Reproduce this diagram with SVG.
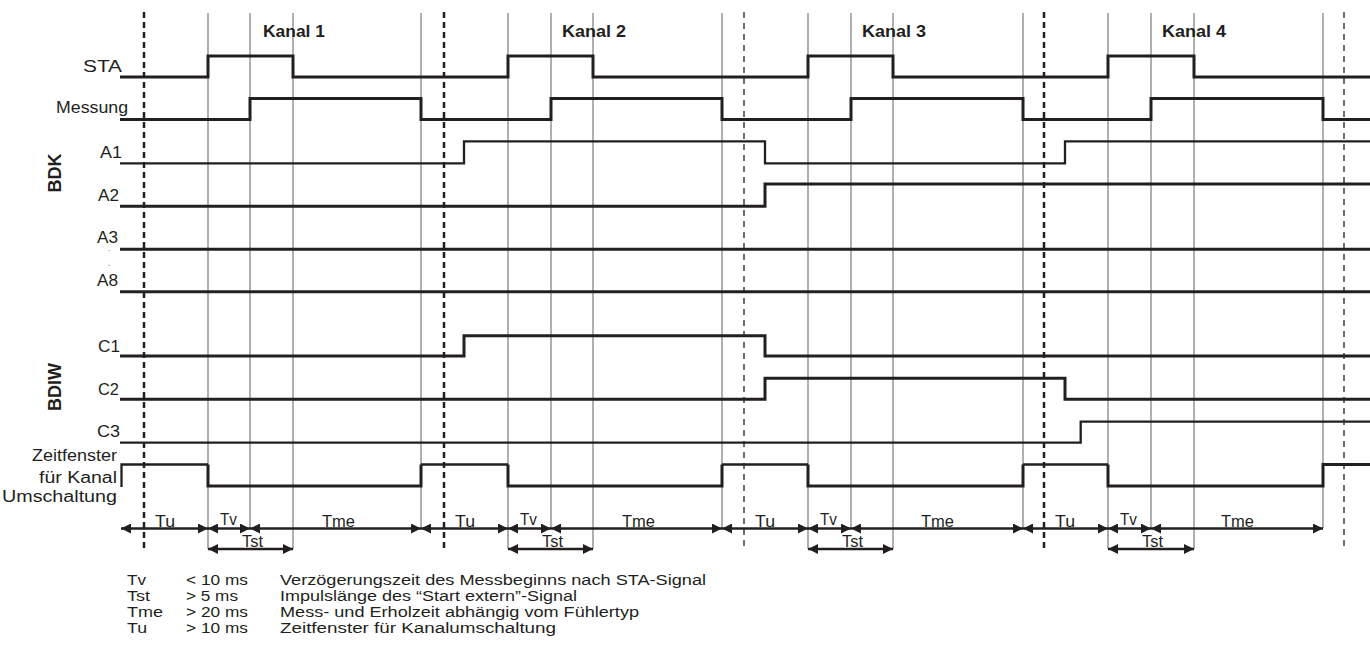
<svg xmlns="http://www.w3.org/2000/svg" width="1370" height="649" viewBox="0 0 1370 649">
<style>
.grid{stroke:#6e6e6e;stroke-width:1.1;fill:none}
.dk{stroke:#231f20;stroke-width:2.5;stroke-dasharray:6 4;fill:none}
.dt{stroke:#231f20;stroke-width:1.3;stroke-dasharray:6 5;fill:none}
.w3{stroke:#231f20;stroke-width:3;fill:none;stroke-linejoin:miter}
.w2{stroke:#231f20;stroke-width:2.3;fill:none;stroke-linejoin:miter}
.arr{stroke:#231f20;stroke-width:2.6;fill:none;marker-start:url(#ah);marker-end:url(#ah)}
text{font-family:"Liberation Sans",Arial,sans-serif;fill:#231f20}
.lbl{font-size:16px}
.leg{font-size:13.8px}
.tm{font-size:16px}
.kan{font-size:17px;font-weight:bold}
.grp{font-size:18px;font-weight:bold}
</style>
<defs>
<marker id="ah" viewBox="0 0 10 10" refX="10" refY="5" markerWidth="11" markerHeight="10" markerUnits="userSpaceOnUse" orient="auto-start-reverse">
<path d="M0,0 L10,5 L0,10 z" fill="#231f20"/>
</marker>
</defs>
<rect x="0" y="0" width="1370" height="649" fill="#ffffff"/>

<g id="gridlines">
<line class="grid" x1="208" y1="13" x2="208" y2="549"/>
<line class="grid" x1="250" y1="13" x2="250" y2="528"/>
<line class="grid" x1="293" y1="13" x2="293" y2="549"/>
<line class="grid" x1="421" y1="13" x2="421" y2="528"/>
<line class="grid" x1="508" y1="13" x2="508" y2="549"/>
<line class="grid" x1="551" y1="13" x2="551" y2="528"/>
<line class="grid" x1="593" y1="13" x2="593" y2="549"/>
<line class="grid" x1="722" y1="13" x2="722" y2="528"/>
<line class="grid" x1="808" y1="13" x2="808" y2="549"/>
<line class="grid" x1="851" y1="13" x2="851" y2="528"/>
<line class="grid" x1="893" y1="13" x2="893" y2="549"/>
<line class="grid" x1="1023" y1="13" x2="1023" y2="528"/>
<line class="grid" x1="1108" y1="13" x2="1108" y2="549"/>
<line class="grid" x1="1151" y1="13" x2="1151" y2="528"/>
<line class="grid" x1="1194" y1="13" x2="1194" y2="549"/>
<line class="grid" x1="1323" y1="13" x2="1323" y2="528"/>
<line class="dk" x1="144" y1="12" x2="144" y2="548"/>
<line class="dk" x1="444" y1="12" x2="444" y2="548"/>
<line class="dt" x1="744" y1="12" x2="744" y2="548"/>
<line class="dk" x1="1044" y1="12" x2="1044" y2="548"/>
<line class="dt" x1="1344" y1="12" x2="1344" y2="548"/>
</g>

<g id="channel-labels">
<text class="kan" x="263" y="37" textLength="62" lengthAdjust="spacingAndGlyphs">Kanal 1</text>
<text class="kan" x="562" y="37" textLength="64" lengthAdjust="spacingAndGlyphs">Kanal 2</text>
<text class="kan" x="862" y="37" textLength="64" lengthAdjust="spacingAndGlyphs">Kanal 3</text>
<text class="kan" x="1162" y="37" textLength="64" lengthAdjust="spacingAndGlyphs">Kanal 4</text>
</g>

<g id="group-labels">
<text class="grp" transform="translate(61,173) rotate(-90)" text-anchor="middle">BDK</text>
<text class="grp" transform="translate(61,387) rotate(-90)" text-anchor="middle">BDIW</text>
</g>

<g id="sig-STA">
<text class="lbl" x="83" y="72" textLength="39" lengthAdjust="spacingAndGlyphs">STA</text>
<polyline class="w3" points="120,77 208,77 208,56 293,56 293,77 508,77 508,56 593,56 593,77 808,77 808,56 893,56 893,77 1108,77 1108,56 1194,56 1194,77 1370,77"/>
</g>
<g id="sig-Messung">
<text class="lbl" x="56" y="113" textLength="72" lengthAdjust="spacingAndGlyphs">Messung</text>
<polyline class="w3" points="120,119.5 250,119.5 250,98.5 421,98.5 421,119.5 551,119.5 551,98.5 722,98.5 722,119.5 851,119.5 851,98.5 1023,98.5 1023,119.5 1151,119.5 1151,98.5 1323,98.5 1323,119.5 1370,119.5"/>
</g>
<g id="sig-A1">
<text class="lbl" x="100" y="158" textLength="22" lengthAdjust="spacingAndGlyphs">A1</text>
<polyline class="w2" points="120,163.3 464,163.3 464,141.3 765,141.3 765,163.3 1065,163.3 1065,141.3 1370,141.3"/>
</g>
<g id="sig-A2">
<text class="lbl" x="98" y="201" textLength="21" lengthAdjust="spacingAndGlyphs">A2</text>
<polyline class="w3" points="120,206.3 765,206.3 765,184 1370,184"/>
</g>
<g id="sig-A3">
<text class="lbl" x="97" y="243" textLength="21" lengthAdjust="spacingAndGlyphs">A3</text>
<text x="108" y="251" font-size="8">.</text>
<text x="108" y="266" font-size="8">.</text>
<line class="w3" x1="120" y1="249.3" x2="1370" y2="249.3"/>
</g>
<g id="sig-A8">
<text class="lbl" x="97" y="286" textLength="21" lengthAdjust="spacingAndGlyphs">A8</text>
<line class="w3" x1="120" y1="291.7" x2="1370" y2="291.7"/>
</g>
<g id="sig-C1">
<text class="lbl" x="98" y="352" textLength="22" lengthAdjust="spacingAndGlyphs">C1</text>
<polyline class="w3" points="120,356 464,356 464,335.7 765,335.7 765,356 1370,356"/>
</g>
<g id="sig-C2">
<text class="lbl" x="98" y="395" textLength="21" lengthAdjust="spacingAndGlyphs">C2</text>
<polyline class="w3" points="120,399.3 765,399.3 765,378.3 1065,378.3 1065,399.3 1370,399.3"/>
</g>
<g id="sig-C3">
<text class="lbl" x="97" y="437" textLength="23" lengthAdjust="spacingAndGlyphs">C3</text>
<polyline class="w2" points="120,442.7 1080.7,442.7 1080.7,421.7 1370,421.7"/>
</g>
<g id="sig-Zeitfenster">
<text class="lbl" x="32" y="461" textLength="85" lengthAdjust="spacingAndGlyphs">Zeitfenster</text>
<text class="lbl" x="39" y="483" textLength="78" lengthAdjust="spacingAndGlyphs">für Kanal</text>
<text class="lbl" x="2" y="502" textLength="115" lengthAdjust="spacingAndGlyphs">Umschaltung</text>
<polyline class="w2" points="121.5,487 121.5,464.5 208,464.5"/>
<polyline class="w3" points="208,464.5 208,486 421,486 421,464.5"/>
<polyline class="w2" points="421,464.5 508,464.5"/>
<polyline class="w3" points="508,464.5 508,486 722,486 722,464.5"/>
<polyline class="w2" points="722,464.5 808,464.5"/>
<polyline class="w3" points="808,464.5 808,486 1023,486 1023,464.5"/>
<polyline class="w2" points="1023,464.5 1108,464.5"/>
<polyline class="w3" points="1108,464.5 1108,486 1323,486 1323,464.5 1370,464.5"/>
</g>

<g id="connectors">
<line class="arr" x1="121" y1="528.5" x2="208" y2="528.5"/>
<line class="arr" x1="208" y1="528.5" x2="250" y2="528.5"/>
<line class="arr" x1="250" y1="528.5" x2="421" y2="528.5"/>
<line class="arr" x1="208" y1="549" x2="293" y2="549"/>
<line class="arr" x1="421" y1="528.5" x2="508" y2="528.5"/>
<line class="arr" x1="508" y1="528.5" x2="551" y2="528.5"/>
<line class="arr" x1="551" y1="528.5" x2="722" y2="528.5"/>
<line class="arr" x1="508" y1="549" x2="593" y2="549"/>
<line class="arr" x1="722" y1="528.5" x2="808" y2="528.5"/>
<line class="arr" x1="808" y1="528.5" x2="851" y2="528.5"/>
<line class="arr" x1="851" y1="528.5" x2="1023" y2="528.5"/>
<line class="arr" x1="808" y1="549" x2="893" y2="549"/>
<line class="arr" x1="1023" y1="528.5" x2="1108" y2="528.5"/>
<line class="arr" x1="1108" y1="528.5" x2="1151" y2="528.5"/>
<line class="arr" x1="1151" y1="528.5" x2="1323" y2="528.5"/>
<line class="arr" x1="1108" y1="549" x2="1194" y2="549"/>
</g>

<g id="timing-labels">
<text class="tm" x="155" y="527" textLength="20" lengthAdjust="spacingAndGlyphs">Tu</text>
<text class="tm" x="220" y="525" textLength="17" lengthAdjust="spacingAndGlyphs">Tv</text>
<text class="tm" x="322" y="527" textLength="33" lengthAdjust="spacingAndGlyphs">Tme</text>
<text class="tm" x="242" y="547" textLength="21" lengthAdjust="spacingAndGlyphs">Tst</text>
<text class="tm" x="455" y="527" textLength="20" lengthAdjust="spacingAndGlyphs">Tu</text>
<text class="tm" x="520" y="525" textLength="17" lengthAdjust="spacingAndGlyphs">Tv</text>
<text class="tm" x="622" y="527" textLength="33" lengthAdjust="spacingAndGlyphs">Tme</text>
<text class="tm" x="542" y="547" textLength="21" lengthAdjust="spacingAndGlyphs">Tst</text>
<text class="tm" x="755" y="527" textLength="20" lengthAdjust="spacingAndGlyphs">Tu</text>
<text class="tm" x="820" y="525" textLength="17" lengthAdjust="spacingAndGlyphs">Tv</text>
<text class="tm" x="921" y="527" textLength="33" lengthAdjust="spacingAndGlyphs">Tme</text>
<text class="tm" x="842" y="547" textLength="21" lengthAdjust="spacingAndGlyphs">Tst</text>
<text class="tm" x="1055" y="527" textLength="20" lengthAdjust="spacingAndGlyphs">Tu</text>
<text class="tm" x="1120" y="525" textLength="17" lengthAdjust="spacingAndGlyphs">Tv</text>
<text class="tm" x="1221" y="527" textLength="33" lengthAdjust="spacingAndGlyphs">Tme</text>
<text class="tm" x="1142" y="547" textLength="21" lengthAdjust="spacingAndGlyphs">Tst</text>
</g>

<g id="legend">
<text class="leg" x="127" y="585" textLength="19" lengthAdjust="spacingAndGlyphs">Tv</text>
<text class="leg" x="186" y="585" textLength="62" lengthAdjust="spacingAndGlyphs">&lt; 10 ms</text>
<text class="leg" x="280" y="585" textLength="426" lengthAdjust="spacingAndGlyphs">Verzögerungszeit des Messbeginns nach STA-Signal</text>
<text class="leg" x="127" y="601" textLength="23" lengthAdjust="spacingAndGlyphs">Tst</text>
<text class="leg" x="186" y="601" textLength="52" lengthAdjust="spacingAndGlyphs">&gt; 5 ms</text>
<text class="leg" x="280" y="601" textLength="297" lengthAdjust="spacingAndGlyphs">Impulslänge des “Start extern”-Signal</text>
<text class="leg" x="127" y="617" textLength="36" lengthAdjust="spacingAndGlyphs">Tme</text>
<text class="leg" x="186" y="617" textLength="62" lengthAdjust="spacingAndGlyphs">&gt; 20 ms</text>
<text class="leg" x="280" y="617" textLength="359" lengthAdjust="spacingAndGlyphs">Mess- und Erholzeit abhängig vom Fühlertyp</text>
<text class="leg" x="127" y="633" textLength="20" lengthAdjust="spacingAndGlyphs">Tu</text>
<text class="leg" x="186" y="633" textLength="62" lengthAdjust="spacingAndGlyphs">&gt; 10 ms</text>
<text class="leg" x="280" y="633" textLength="276" lengthAdjust="spacingAndGlyphs">Zeitfenster für Kanalumschaltung</text>
</g>
</svg>
